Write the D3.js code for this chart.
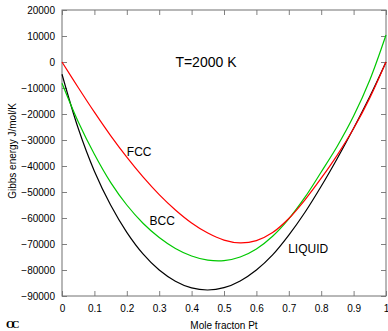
<!DOCTYPE html>
<html><head><meta charset="utf-8">
<script src="https://cdn.jsdelivr.net/npm/d3@7/dist/d3.min.js"></script>
<style>body{margin:0;background:#fff}svg{display:block}text{font-family:"Liberation Sans",Arial,sans-serif}</style>
</head><body>
<svg id="c" width="388" height="331"></svg>
<script>
const xs = [0,0.05,0.1,0.15,0.2,0.25,0.3,0.35,0.4,0.45,0.5,0.55,0.6,0.65,0.7,0.75,0.8,0.85,0.9,0.95,1];
const fcc = [0,-9800,-19300,-28300,-36600,-44200,-51000,-56900,-61900,-65800,-68500,-69600,-68700,-65600,-60200,-53000,-44700,-35700,-25600,-13800,0];
const bcc = [-8200,-23000,-35500,-46300,-55000,-62000,-67500,-71700,-74600,-76200,-76400,-75000,-71900,-67000,-60300,-52000,-42300,-32300,-20800,-6900,10400];
const liquid = [-4700,-25500,-42000,-55000,-65500,-73800,-80000,-84300,-86900,-87700,-86800,-84200,-80000,-74200,-66600,-57800,-47800,-37000,-25500,-13300,0];
const xTicks = [0,0.1,0.2,0.3,0.4,0.5,0.6,0.7,0.8,0.9,1];
const yTicks = [-90000,-80000,-70000,-60000,-50000,-40000,-30000,-20000,-10000,0,10000,20000];
const series = [
  {name:"LIQUID", vals:liquid, color:"#000000"},
  {name:"BCC", vals:bcc, color:"#00c800"},
  {name:"FCC", vals:fcc, color:"#ff0000"}
];
const labels = [
  {text:"FCC", x:0.2, y:-36000},
  {text:"BCC", x:0.27, y:-62500},
  {text:"LIQUID", x:0.698, y:-73500}
];

const svg = d3.select("#c");
const L=62,R=386,T=10,B=296;
const x = d3.scaleLinear().domain([0,1]).range([L,R]);
const y = d3.scaleLinear().domain([-90000,20000]).range([B,T]);
const axc = "#808080";

// axes with inward ticks
const gB = svg.append("g").attr("transform",`translate(0,${B})`)
  .call(d3.axisBottom(x).tickValues(xTicks).tickSize(-5).tickPadding(9).tickFormat(d3.format("")));
const gT = svg.append("g").attr("transform",`translate(0,${T})`)
  .call(d3.axisTop(x).tickValues(xTicks).tickSize(-5).tickFormat(""));
const gL = svg.append("g").attr("transform",`translate(${L},0)`)
  .call(d3.axisLeft(y).tickValues(yTicks).tickSize(-5).tickPadding(7).tickFormat(d3.format("d")));
const gR = svg.append("g").attr("transform",`translate(${R},0)`)
  .call(d3.axisRight(y).tickValues(yTicks).tickSize(-5).tickFormat(""));
[gB,gT,gL,gR].forEach(g=>{
  g.select(".domain").remove();
  g.selectAll(".tick line").attr("stroke",axc);
  g.selectAll(".tick text").attr("fill","#000").style("font-size","10px").style("font-family","Liberation Sans, Arial, sans-serif");
});
svg.append("rect").attr("x",L).attr("y",T).attr("width",R-L).attr("height",B-T)
  .attr("fill","none").attr("stroke","#707070").attr("stroke-width",1);

const line = d3.line().x((d,i)=>x(xs[i])).y(d=>y(d)).curve(d3.curveCatmullRom.alpha(0.5));
series.forEach(s=>{
  svg.append("path").attr("d",line(s.vals)).attr("fill","none")
    .attr("stroke",s.color).attr("stroke-width",1.2);
});

labels.forEach(l=>{
  svg.append("text").attr("x",x(l.x)).attr("y",y(l.y)).text(l.text)
    .style("font-size","12px").attr("fill","#000");
});
svg.append("text").attr("x",x(0.35)).attr("y",y(-2000)).text("T=2000 K")
  .style("font-size","14px").attr("fill","#000");

svg.append("text").attr("x",(L+R)/2).attr("y",329).attr("text-anchor","middle")
  .text("Mole fracton Pt").style("font-size","10px");
svg.append("text").attr("transform",`translate(16,${151}) rotate(-90)`).attr("text-anchor","middle")
  .text("Gibbs energy J/mol/K").style("font-size","10px");
svg.append("text").attr("x",6).attr("y",328).text("OC")
  .style("font-family","Liberation Serif, serif").style("font-weight","bold").style("font-size","11px")
  .style("letter-spacing","-3px");
</script>
</body></html>
